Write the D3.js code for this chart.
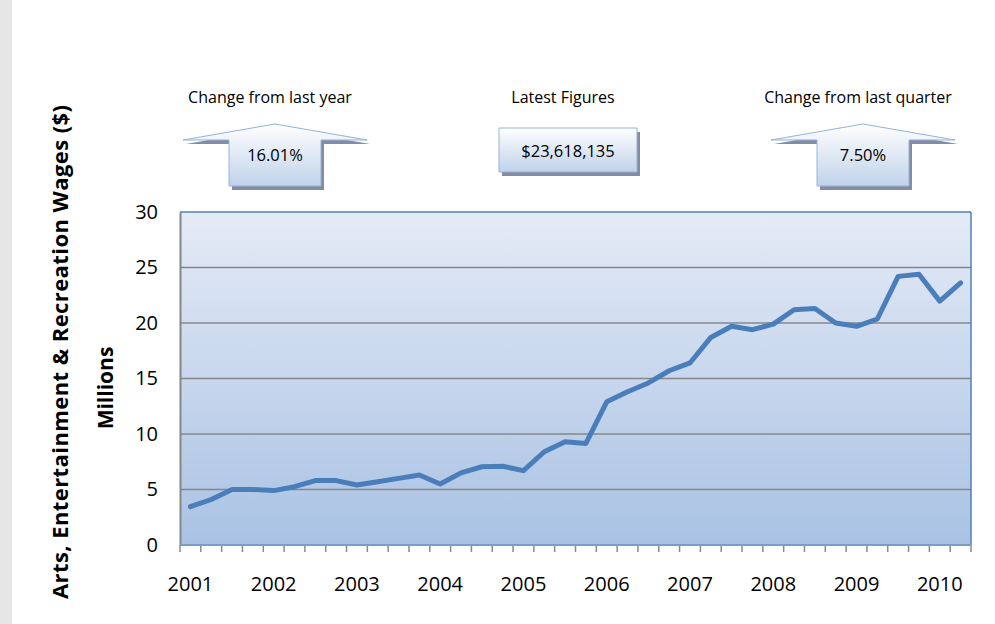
<!DOCTYPE html>
<html>
<head>
<meta charset="utf-8">
<script src="https://cdn.jsdelivr.net/npm/d3@7"></script>
<style>
  body { margin: 0; background: #fff; }
  svg text { font-family: "Open Sans", sans-serif; fill: #000; }
</style>
</head>
<body>
<div id="chart"></div>
<script>
const years = ["2001","2002","2003","2004","2005","2006","2007","2008","2009","2010"];
const quarters = [];
years.forEach(y => ["Q1","Q2","Q3","Q4"].forEach(q => quarters.push(y + " " + q)));
quarters.splice(38); // data runs through 2010 Q2

// wages, millions of dollars
const wages = [3.45, 4.1, 5.0, 5.0, 4.9, 5.25, 5.8, 5.8,
               5.4, 5.7, 6.0, 6.3, 5.5, 6.5, 7.05, 7.1,
               6.7, 8.4, 9.3, 9.15, 12.9, 13.8, 14.6, 15.7,
               16.4, 18.7, 19.7, 19.4, 19.9, 21.2, 21.3, 20.0,
               19.7, 20.36, 24.2, 24.4, 21.97, 23.62];
const yTicks = [0, 5, 10, 15, 20, 25, 30];

const callouts = [
  {title: "Change from last year", value: "16.01%", shape: "arrow", cx: 275},
  {title: "Latest Figures", value: "$23,618,135", shape: "box", cx: 568},
  {title: "Change from last quarter", value: "7.50%", shape: "arrow", cx: 863}
];

const W = 995, H = 624;
const pL = 180, pR = 971, pT = 212, pB = 545;

const svg = d3.select("#chart").append("svg")
  .attr("width", W).attr("height", H);

const defs = svg.append("defs");
const bg = defs.append("linearGradient").attr("id", "plotbg")
  .attr("x1", 0).attr("y1", 0).attr("x2", 0).attr("y2", 1);
bg.append("stop").attr("offset", "0%").attr("stop-color", "#e5ebf6");
bg.append("stop").attr("offset", "100%").attr("stop-color", "#a9c2e4");

const cg = defs.append("linearGradient").attr("id", "callbg")
  .attr("x1", 0).attr("y1", 0).attr("x2", 0).attr("y2", 1);
cg.append("stop").attr("offset", "0%").attr("stop-color", "#ffffff");
cg.append("stop").attr("offset", "100%").attr("stop-color", "#c0d2ea");

// grey strip at the left edge
svg.append("rect").attr("x", 0).attr("y", 0).attr("width", 12).attr("height", H)
  .attr("fill", "#e6e6e6");

const x = d3.scaleBand().domain(quarters).range([pL, pR]).paddingInner(0).paddingOuter(0);
const y = d3.scaleLinear().domain([0, 30]).range([pB, pT]);

svg.append("rect")
  .attr("x", pL).attr("y", pT)
  .attr("width", pR - pL).attr("height", pB - pT)
  .attr("fill", "url(#plotbg)");

// grid lines
svg.append("g").selectAll("line")
  .data(yTicks.filter(t => t > 0 && t < 30))
  .join("line")
  .attr("x1", pL).attr("x2", pR)
  .attr("y1", d => y(d)).attr("y2", d => y(d))
  .attr("stroke", "#878787").attr("stroke-width", 1.5);

// frame: top & right blue, left grey
svg.append("line").attr("x1", pL).attr("x2", pR).attr("y1", pT).attr("y2", pT)
  .attr("stroke", "#4f81bd").attr("stroke-width", 1.5);
svg.append("line").attr("x1", pR).attr("x2", pR).attr("y1", pT).attr("y2", pB)
  .attr("stroke", "#4f81bd").attr("stroke-width", 1.5);

// y axis
const yAxis = d3.axisLeft(y).tickValues(yTicks).tickSize(0).tickPadding(22);
const gy = svg.append("g").attr("transform", `translate(${pL},0)`).call(yAxis);
gy.select(".domain").attr("stroke", "#868686").attr("stroke-width", 2);
gy.selectAll("text").attr("font-size", 20).style("font-family", "'Open Sans', sans-serif");

// x axis: ticks at quarter boundaries, labels on Q1
const edges = quarters.map(q => x(q)).concat([pR]);
svg.append("g").selectAll("line").data(edges).join("line")
  .attr("x1", d => d).attr("x2", d => d)
  .attr("y1", pB).attr("y2", pB + 7)
  .attr("stroke", "#8a8a8a").attr("stroke-width", 1.5);
svg.append("line").attr("x1", pL).attr("x2", pR).attr("y1", pB).attr("y2", pB)
  .attr("stroke", "#7a9cc8").attr("stroke-width", 2);

svg.append("g").selectAll("text")
  .data(years)
  .join("text")
  .attr("x", d => x(d + " Q1") + x.bandwidth() / 2)
  .attr("y", 591)
  .attr("text-anchor", "middle")
  .attr("font-size", 20)
  .text(d => d);

// line
const line = d3.line()
  .x((d, i) => x(quarters[i]) + x.bandwidth() / 2)
  .y(d => y(d));
svg.append("path").datum(wages)
  .attr("d", line)
  .attr("fill", "none")
  .attr("stroke", "#4a7ebb")
  .attr("stroke-width", 5)
  .attr("stroke-linejoin", "round")
  .attr("stroke-linecap", "round");

// axis titles
svg.append("text")
  .attr("transform", "translate(68,352) rotate(-90)")
  .attr("text-anchor", "middle")
  .attr("font-size", 22).attr("font-weight", "bold")
  .attr("textLength", 494).attr("lengthAdjust", "spacing")
  .text("Arts, Entertainment & Recreation Wages ($)");
svg.append("text")
  .attr("transform", "translate(113,388) rotate(-90)")
  .attr("text-anchor", "middle")
  .attr("font-size", 21).attr("font-weight", "bold")
  .text("Millions");

// callouts
callouts.forEach(c => {
  const g = svg.append("g");
  g.append("text").attr("x", c.cx - 5).attr("y", 103)
    .attr("text-anchor", "middle").attr("font-size", 16).text(c.title);
  let pts;
  if (c.shape === "arrow") {
    pts = [[c.cx, 124], [c.cx + 92, 140], [c.cx + 46, 140], [c.cx + 46, 186],
           [c.cx - 46, 186], [c.cx - 46, 140], [c.cx - 92, 140]];
  } else {
    pts = [[c.cx - 69, 128], [c.cx + 69, 128], [c.cx + 69, 172], [c.cx - 69, 172]];
  }
  const p = "M" + pts.map(q => q.join(",")).join("L") + "Z";
  g.append("path").attr("d", p).attr("transform", "translate(3,4)")
    .attr("fill", "#858ba3");
  g.append("path").attr("d", p).attr("fill", "url(#callbg)")
    .attr("stroke", "#95b3d7").attr("stroke-width", 1);
  g.append("text").attr("x", c.cx).attr("y", c.shape === "arrow" ? 161 : 157)
    .attr("text-anchor", "middle").attr("font-size", 16.5).text(c.value);
});
</script>
</body>
</html>
